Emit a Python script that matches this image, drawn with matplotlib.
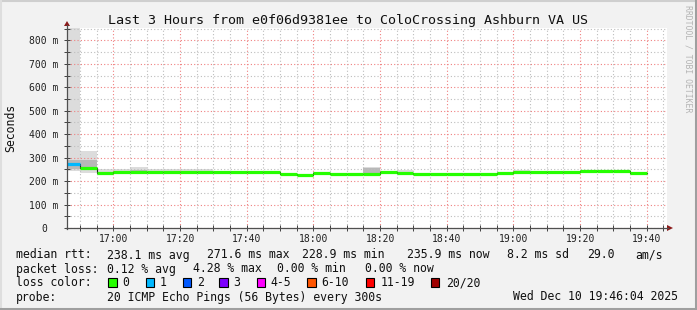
import numpy as np
import pandas as pd
import matplotlib
matplotlib.use("Agg")
import matplotlib.pyplot as plt
import matplotlib.dates as mdates
from matplotlib.patches import Rectangle, Polygon
from matplotlib.lines import Line2D
from matplotlib.ticker import MultipleLocator, FixedLocator, FuncFormatter

W, H = 697, 310
MONO = "DejaVu Sans Mono"

# ===== DATA (ms, one value per 5 min step, step starts at 16:45) =====
step_start = pd.date_range("2025-12-10 16:45", periods=35, freq="5min")
view_start = pd.Timestamp("2025-12-10 16:46:04")
view_end = pd.Timestamp("2025-12-10 19:46:04")

median_ms = [271, 258, 235, 237, 238, 238, 239, 239, 239, 240,
             240, 240, 237, 229, 228, 234, 232, 230, 230, 240,
             234, 229, 229, 229, 229, 229, 235, 237, 240, 240,
             237, 244, 244, 244, 235]
loss = [1, 0, 0, 0, 0, 0, 0, 0, 0, 0,
        0, 0, 0, 0, 0, 0, 0, 0, 0, 0,
        0, 0, 0, 0, 0, 0, 0, 0, 0, 0,
        0, 0, 0, 0, 0]
smoke_lo = [241, 234, 232, 234, 234, 235, 236, 236, 236, 236,
            237, 237, 234, 226, 225, 231, 229, 227, 228, 236,
            231, 226, 226, 226, 226, 226, 232, 234, 237, 237,
            234, 240, 241, 241, 232]
smoke_hi = [1200, 329, 252, 251, 262, 252, 251, 250, 251, 244,
            244, 244, 242, 234, 232, 238, 236, 235, 262, 245,
            248, 233, 233, 233, 233, 233, 239, 248, 244, 244,
            241, 248, 248, 248, 240]
core_lo = [250, 250, 231, 233, 234, 234, 235, 235, 235, 236,
           236, 236, 233, 225, 224, 230, 228, 226, 232, 236,
           230, 225, 225, 225, 225, 225, 231, 233, 236, 236,
           233, 240, 240, 240, 231]
core_hi = [288, 291, 239, 241, 248, 242, 243, 243, 243, 244,
           244, 244, 241, 233, 232, 238, 236, 234, 255, 244,
           240, 233, 233, 233, 233, 233, 239, 243, 244, 244,
           241, 248, 248, 248, 239]

loss_labels = ["0", "1", "2", "3", "4-5", "6-10", "11-19", "20/20"]
loss_colors = ["#26ff00", "#00b8ff", "#0059ff", "#7e00ff",
               "#ff00ff", "#ff5500", "#ff0000", "#a00000"]

y_ticks = [0, 100, 200, 300, 400, 500, 600, 700, 800]

stats_rtt = ["238.1 ms avg", "271.6 ms max", "228.9 ms min", "235.9 ms now", "8.2 ms sd", "29.0", "am/s"]
stats_loss = ["0.12 % avg", "4.28 % max", "0.00 % min", "0.00 % now"]
probe_txt = "20 ICMP Echo Pings (56 Bytes) every 300s"
stamp_txt = "Wed Dec 10 19:46:04 2025"
title_txt = "Last 3 Hours from e0f06d9381ee to ColoCrossing Ashburn VA US"

# ===== LAYOUT (pixels) =====
def fx(x):
    return x / W

def fy(y):
    return 1 - y / H

AX_L, AX_R, AX_T, AX_B = 67, 667, 28, 228

fig = plt.figure(figsize=(W / 100, H / 100), dpi=100)
fig.patch.set_facecolor("#f2f2f2")

ax = fig.add_axes([fx(AX_L), fy(AX_B), (AX_R - AX_L) / W, (AX_B - AX_T) / H])
ax.set_facecolor("white")

x0 = mdates.date2num(step_start.to_pydatetime())
step_w = 5 / 1440.0
x_end = x0[-1] + step_w

# smoke
ax.bar(x0, np.array(smoke_hi) - np.array(smoke_lo), bottom=smoke_lo, width=step_w,
       align="edge", color="#dcdcdc", linewidth=0, zorder=1)
ax.bar(x0, np.array(core_hi) - np.array(core_lo), bottom=core_lo, width=step_w,
       align="edge", color="#b8b8b8", linewidth=0, zorder=1.1)

# median: thin dark step line + loss coloured band
ax.step(np.append(x0, x_end), median_ms + [median_ms[-1]], where="post",
        color="#202020", lw=0.8, zorder=3)
ax.hlines(median_ms, x0, x0 + step_w, colors=[loss_colors[l] for l in loss],
          linewidth=2.3, zorder=3.2)

ax.set_xlim(mdates.date2num(view_start), mdates.date2num(view_end))
ax.set_ylim(0, 853)

# grid
ax.xaxis.set_major_locator(mdates.MinuteLocator(byminute=[0, 20, 40]))
ax.xaxis.set_minor_locator(mdates.MinuteLocator(byminute=range(0, 60, 5)))
ax.xaxis.set_major_formatter(mdates.DateFormatter("%H:%M"))
ax.yaxis.set_major_locator(FixedLocator(y_ticks))
ax.yaxis.set_minor_locator(MultipleLocator(50))
ax.yaxis.set_major_formatter(FuncFormatter(lambda v, p: "0" if v == 0 else f"{int(v)} m"))

ax.set_axisbelow(False)
ax.grid(which="minor", color="#bdbdbd", linestyle=(0, (1, 2)), linewidth=0.8)
ax.grid(which="major", color="#f08080", linestyle=(0, (1, 2)), linewidth=0.8)

for s in ax.spines.values():
    s.set_visible(False)

ax.tick_params(which="both", direction="inout", length=4, width=0.7, color="#404040")
ax.tick_params(axis="x", which="major", pad=2.5, labelsize=7)
ax.tick_params(axis="y", which="major", pad=14.6, labelsize=7)
for lab in ax.get_xticklabels() + ax.get_yticklabels():
    lab.set_fontfamily(MONO)
    lab.set_color("#202020")
for lab in ax.get_yticklabels():
    lab.set_horizontalalignment("center")

# axis lines with arrows
fig.add_artist(Line2D([fx(AX_L), fx(AX_L)], [fy(AX_B + 0.5), fy(25)], color="#505050", lw=0.9))
fig.add_artist(Line2D([fx(AX_L - 1), fx(668)], [fy(AX_B), fy(AX_B)], color="#505050", lw=0.9))
fig.add_artist(Polygon([[fx(64), fy(26)], [fx(70), fy(26)], [fx(67), fy(21)]], closed=True,
                       color="#8b1a1a", lw=0))
fig.add_artist(Polygon([[fx(667), fy(225)], [fx(667), fy(231)], [fx(673), fy(228)]], closed=True,
                       color="#8b1a1a", lw=0))

# texts
fig.text(fx(348.5), fy(24), title_txt, ha="center", va="baseline", fontsize=9.6, family=MONO, color="#101010")
fig.text(fx(10.5), fy(128), "Seconds", rotation=90, ha="center", va="center", fontsize=8.3, family=MONO, color="#101010")
fig.text(fx(688), fy(59), "RRDTOOL / TOBI OETIKER", rotation=270, ha="center", va="center",
         fontsize=5.9, family=MONO, color="#b4b4b4")

LEG = dict(fontsize=8.3, family=MONO, color="#101010", va="baseline", ha="left")
rows = [258.5, 272.5, 286.5, 300.5]
fig.text(fx(16), fy(rows[0]), "median rtt:", **LEG)
for txt, x in zip(stats_rtt, [107.3, 207.3, 301.7, 407.3, 507.3, 586.7, 635.7]):
    fig.text(fx(x), fy(rows[0]), txt, **LEG)
fig.text(fx(16), fy(rows[1]), "packet loss:", **LEG)
for txt, x in zip(stats_loss, [107.3, 193.3, 277.3, 365.0]):
    fig.text(fx(x), fy(rows[1]), txt, **LEG)
fig.text(fx(16), fy(rows[2]), "loss color:", **LEG)
box_x = [108.3, 145.7, 182.7, 219.3, 256.7, 307.3, 365.7, 430.7]
lab_x = [122.7, 160.0, 196.7, 233.3, 270.7, 321.7, 380.7, 445.7]
for c, lab, bx, lx in zip(loss_colors, loss_labels, box_x, lab_x):
    fig.add_artist(Rectangle((fx(bx), fy(286.7)), 8.3 / W, 8.3 / H, facecolor=c,
                             edgecolor="black", lw=0.8))
    fig.text(fx(lx), fy(rows[2]), lab, **LEG)
fig.text(fx(16), fy(rows[3]), "probe:", **LEG)
fig.text(fx(107.3), fy(rows[3]), probe_txt, **LEG)
fig.text(fx(513.3), fy(rows[3]), stamp_txt, **LEG)

# frame
fig.add_artist(Line2D([0, 1], [fy(1), fy(1)], color="#cfcfcf", lw=1.5))
fig.add_artist(Line2D([fx(1), fx(1)], [0, 1], color="#dedede", lw=1.5))
fig.add_artist(Line2D([0, 1], [fy(308.5), fy(308.5)], color="#9f9f9f", lw=2.2))
fig.add_artist(Line2D([fx(695.5), fx(695.5)], [0, 1], color="#9f9f9f", lw=2.2))

fig.savefig("out.png", dpi=100, facecolor=fig.get_facecolor())
